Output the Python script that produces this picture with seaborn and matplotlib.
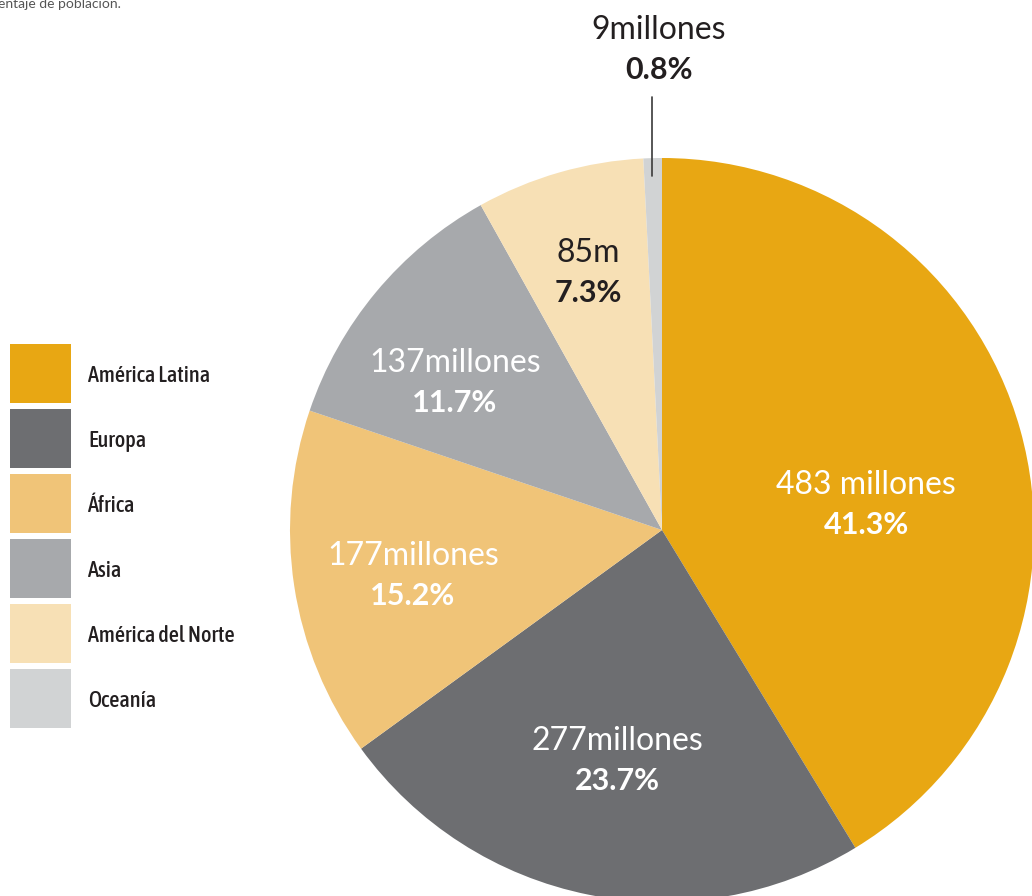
import matplotlib
matplotlib.use("Agg")
import matplotlib.pyplot as plt
import matplotlib.font_manager as fm
from matplotlib.patches import Rectangle
import seaborn as sns

# data
regions = ["América Latina", "Europa", "África", "Asia", "América del Norte", "Oceanía"]
shares = [41.3, 23.7, 15.2, 11.7, 7.3, 0.8]
amounts = ["483 millones", "277millones", "177millones", "137millones", "85m", "9millones"]
colors = ["#E8A713", "#6D6E71", "#F0C478", "#A7A9AC", "#F7E0B5", "#D1D3D4"]

sns.set_theme(style="white")
names = {f.name for f in fm.fontManager.ttflist}
main_font = "Lato" if "Lato" in names else "DejaVu Sans"
plt.rcParams["font.family"] = [main_font, "DejaVu Sans"]

# look for a narrow face for the legend
narrow = [f for f in fm.fontManager.ttflist
          if f.stretch in ("condensed", "semi-condensed", 500 - 100, 300, 400 - 100)
          or "Narrow" in f.name or "Condensed" in f.name]
legend_font = fm.FontProperties(family="Roboto", weight="medium", size=15)
if narrow:
    pick = sorted(narrow, key=lambda f: abs(500 - (f.weight if isinstance(f.weight, int) else 400)))[0]
    legend_font = fm.FontProperties(fname=pick.fname, size=16)

W, H = 1032, 896
fig = plt.figure(figsize=(W / 100, H / 100), dpi=100)
ax = fig.add_axes([0, 0, 1, 1])

cx, cy, r = 662, H - 530, 372
ax.pie(shares, colors=colors, startangle=90, counterclock=False,
       center=(cx, cy), radius=r, frame=True,
       wedgeprops=dict(linewidth=0))
ax.set_xlim(0, W)
ax.set_ylim(0, H)
ax.set_aspect("equal")
ax.axis("off")

# labels (pixel positions from the top)
label_pos = [(866, 485), (617, 741), (413, 556), (455, 363), (588, 253), (659, 30)]
label_col = ["white", "white", "white", "white", "#231F20", "#231F20"]
for amt, pct, (x, y), c in zip(amounts, shares, label_pos, label_col):
    ax.text(x, H - y, amt, ha="center", va="center", fontsize=23,
            color=c, fontweight="normal")
    ax.text(x, H - y - 40, f"{pct}%", ha="center", va="center", fontsize=22,
            color=c, fontweight="bold")

# leader line for Oceanía
ax.plot([652, 652], [H - 97, H - 176], color="#3A3A3A", linewidth=1.2)

# legend
for i, (name, c) in enumerate(zip(regions, colors)):
    top = 344 + i * 65
    ax.add_patch(Rectangle((10, H - top - 59), 61, 59, facecolor=c, edgecolor="none"))
    ax.text(88, H - top - 32, name, ha="left", va="center",
            color="#231F20", fontproperties=legend_font)

# cropped caption at top-left
ax.text(-2, H - 4, "entaje de población.", ha="left", va="center", fontsize=10,
        color="#555555")

fig.savefig("out.png", dpi=100)
